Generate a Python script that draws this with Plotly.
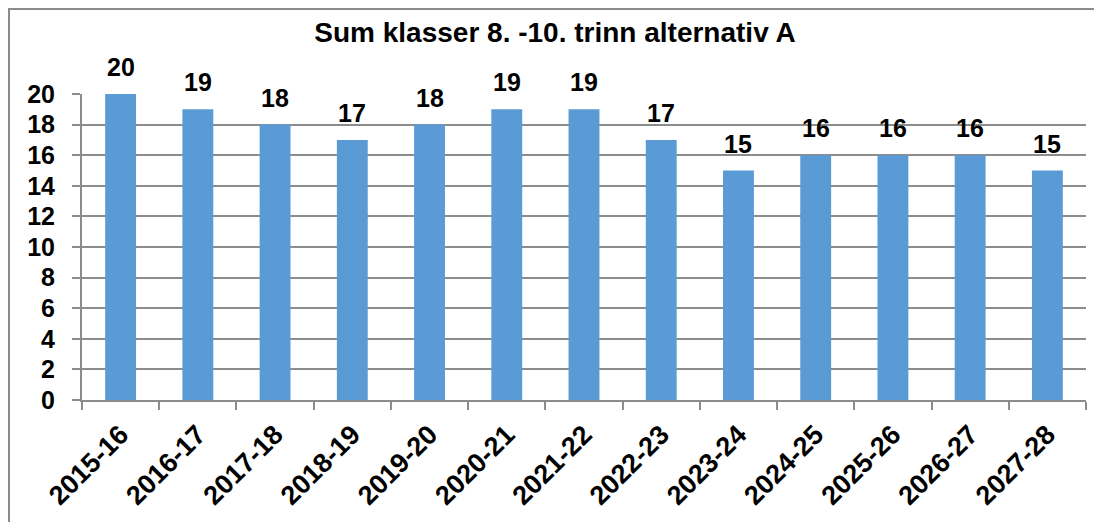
import plotly.graph_objects as go

seasons = ['2015-16', '2016-17', '2017-18', '2018-19', '2019-20', '2020-21', '2021-22',
           '2022-23', '2023-24', '2024-25', '2025-26', '2026-27', '2027-28']
classes = [20, 19, 18, 17, 18, 19, 19, 17, 15, 16, 16, 16, 15]

FONT = 'Liberation Sans, Arial, sans-serif'
GREY = '#8c8c8c'

fig = go.Figure(go.Bar(
    x=seasons,
    y=classes,
    marker_color='#5B9BD5',
    marker_line_width=0,
))

# verdier over søylene
labels = [dict(x=s, y=v, text=str(v), showarrow=False, yanchor='bottom', yshift=11,
               font=dict(family=FONT, size=25, color='black', weight='bold'))
          for s, v in zip(seasons, classes)]

fig.update_layout(
    width=1094, height=514,
    margin=dict(l=74, r=16, t=86, b=122),
    paper_bgcolor='white',
    plot_bgcolor='white',
    bargap=0.6,
    showlegend=False,
    title=dict(text='Sum klasser 8. -10. trinn alternativ A', x=0.5, xanchor='center',
               y=0.953, yanchor='middle',
               font=dict(family=FONT, size=28, color='black', weight='bold')),
    font=dict(family=FONT, color='black'),
    annotations=labels,
    shapes=[dict(type='rect', xref='paper', yref='paper',
                 x0=-0.0727, x1=1.03, y0=-0.5, y1=1.278,
                 line=dict(color=GREY, width=2), layer='below')],
)

fig.update_xaxes(
    tickangle=-45,
    tickfont=dict(family=FONT, size=27, color='black', weight='bold'),
    showline=True, linecolor=GREY, linewidth=2,
    ticks='outside', ticklen=8, tickcolor=GREY, tickwidth=2,
    ticklabelstandoff=6,
    tickson='boundaries', showgrid=False,
)
fig.update_yaxes(
    range=[0, 20], dtick=2,
    tickfont=dict(family=FONT, size=25, color='black', weight='bold'),
    showline=True, linecolor=GREY, linewidth=2,
    ticks='outside', ticklen=8, tickcolor=GREY, tickwidth=2,
    ticklabelstandoff=12,
    showgrid=True, gridcolor=GREY, gridwidth=2,
    zeroline=False,
)

fig.write_html('out.html')
